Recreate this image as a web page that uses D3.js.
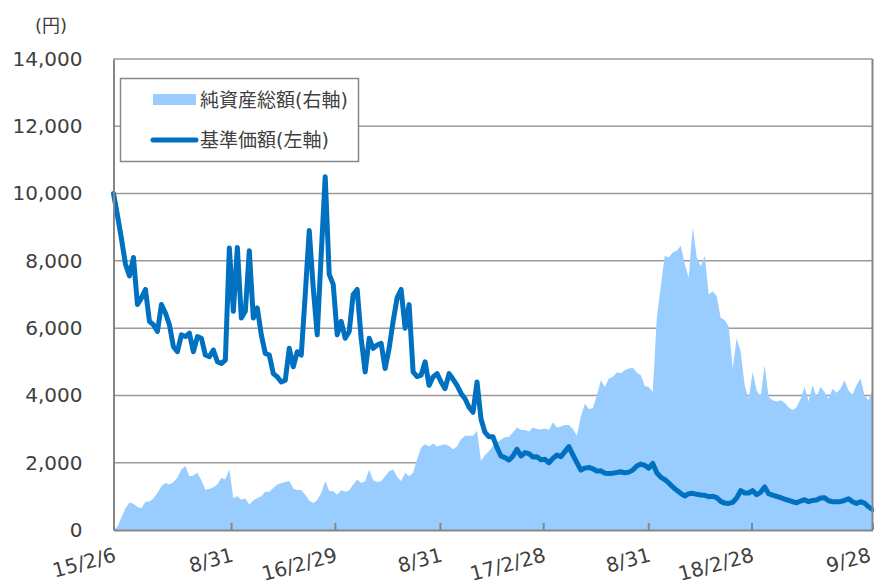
<!DOCTYPE html>
<html>
<head>
<meta charset="utf-8">
<script src="https://cdn.jsdelivr.net/npm/d3@7"></script>
<style>
  html, body { margin: 0; padding: 0; background: #fff; }
  svg { display: block; }
</style>
</head>
<body>
<svg id="chart" width="874" height="585"></svg>
<script>
// ---- data (weekly observations, Fridays, 2015-02-06 .. 2018-09-28) ----
const startDate = "2015-02-06";
const endDate = "2018-09-28";
const stepDays = 7;

// 基準価額 (左軸, 円)
const nav = [
  10000, 9350, 8650, 7900, 7550, 8100, 6700, 6900, 7150, 6200,
  6100, 5900, 6700, 6450, 6100, 5450, 5300, 5800, 5750, 5850,
  5300, 5750, 5700, 5200, 5150, 5350, 5000, 4950, 5050, 8380,
  6500, 8400, 6300, 6500, 8300, 6300, 6600, 5800, 5250, 5200,
  4650, 4550, 4400, 4450, 5400, 4850, 5300, 5200, 7000, 8900,
  7200, 5800, 8200, 10500, 7600, 7300, 5800, 6200, 5700, 5900,
  7000, 7150, 5700, 4700, 5700, 5400, 5500, 5550, 4800, 5400,
  6200, 6900, 7150, 6000, 6700, 4700, 4560, 4600, 5000, 4300,
  4550, 4650, 4400, 4200, 4650, 4480, 4300, 4060, 3900, 3650,
  3500, 4400, 3300, 2900, 2770, 2770, 2450, 2200, 2150, 2080,
  2200, 2400, 2200, 2300, 2270, 2170, 2180, 2090, 2100, 2000,
  2130, 2230, 2180, 2330, 2480, 2230, 2000, 1780, 1840, 1860,
  1820, 1750, 1760, 1690, 1680, 1690, 1710, 1730, 1700, 1720,
  1780, 1900, 1960, 1920, 1840, 1980, 1700, 1570, 1500, 1400,
  1280, 1180, 1090, 1010, 1080, 1090, 1060, 1040, 1030, 990,
  1000, 960, 850, 800, 790, 820, 950, 1170, 1100, 1100,
  1170, 1050, 1120, 1280, 1080, 1040, 1000, 960, 920, 880,
  840, 810, 860, 900, 840, 880, 890, 950, 960, 870,
  840, 840, 840, 880, 930, 840, 790, 840, 800, 690,
  610
];

// 純資産総額 (右軸, 目盛非表示)
const netAssets = [
  0, 100, 380, 650, 820, 780, 680, 650, 840, 850,
  940, 1100, 1300, 1400, 1360, 1420, 1560, 1800, 1900, 1600,
  1620, 1700, 1480, 1200, 1220, 1270, 1350, 1550, 1500, 1800,
  950, 1000, 900, 940, 760, 880, 950, 1000, 1140, 1140,
  1250, 1350, 1390, 1430, 1460, 1230, 1190, 1190, 1050, 880,
  800, 890, 1100, 1450, 1160, 1150, 1050, 1180, 1140, 1180,
  1350, 1500, 1400, 1450, 1800, 1480, 1430, 1450, 1600, 1750,
  1800, 1580, 1450, 1700, 1600, 1700, 2100, 2450, 2550, 2480,
  2570, 2480, 2520, 2550, 2500, 2400, 2480, 2700, 2800, 2800,
  2800, 2950, 2050, 2230, 2350, 2500, 2600, 2680, 2760, 2770,
  2900, 3050, 2970, 2970, 2930, 3050, 3000, 2990, 3020, 2970,
  3200, 3050, 3080, 3120, 3120, 3000, 2800, 3370, 3750, 3600,
  3620, 4000, 4450, 4250, 4500, 4550, 4680, 4660, 4750, 4800,
  4820, 4680, 4600, 4280, 4250, 4100, 6300, 7230, 8150, 8100,
  8250, 8300, 8450, 7900, 7500, 9000, 8100, 7830, 8150, 7000,
  7100, 6950, 6300, 6240, 6050, 4800, 5700, 5300, 4300, 3900,
  4700, 4150, 3950, 4900, 3950, 3860, 3820, 3860, 3780, 3650,
  3570, 3650, 3900, 4250, 3820, 4300, 3950, 4250, 4100, 3900,
  4200, 4080, 4200, 4450, 4150, 4020, 4300, 4500, 4000, 3860,
  4150
];

const xTickDates = ["2015-02-06","2015-08-31","2016-02-29","2016-08-31","2017-02-28","2017-08-31","2018-02-28","2018-09-28"];
const xTickLabels = ["15/2/6","8/31","16/2/29","8/31","17/2/28","8/31","18/2/28","9/28"];
const yTicks = [0, 2000, 4000, 6000, 8000, 10000, 12000, 14000];
const legendLabels = ["純資産総額(右軸)", "基準価額(左軸)"];
const unitLabel = "(円)";

// ---- drawing ----
const parse = d3.timeParse("%Y-%m-%d");
const t0 = parse(startDate);
const dates = nav.map((_, i) => d3.timeDay.offset(t0, i * stepDays));

const svg = d3.select("#chart");
const L = 113.5, R = 872.5, T = 59, B = 530;

const x = d3.scaleTime().domain([parse(startDate), parse(endDate)]).range([L, R]);
const y = d3.scaleLinear().domain([0, 14000]).range([B, T]);
const yRight = d3.scaleLinear().domain([0, 14000]).range([B, T]);

const textColor = "#404040";
const gridColor = "#9a9a9a";
const axisColor = "#868686";

// gridlines
svg.append("g").selectAll("line").data(yTicks.filter(v => v > 0)).join("line")
  .attr("x1", L).attr("x2", R)
  .attr("y1", d => y(d)).attr("y2", d => y(d))
  .attr("stroke", gridColor).attr("stroke-width", 1.5);

// area
const area = d3.area()
  .x((d, i) => x(dates[i]))
  .y0(B)
  .y1(d => yRight(d));
svg.append("path").datum(netAssets)
  .attr("d", area)
  .attr("fill", "#99CCFF");

// line
const line = d3.line()
  .x((d, i) => x(dates[i]))
  .y(d => y(d));
svg.append("path").datum(nav)
  .attr("d", line)
  .attr("fill", "none")
  .attr("stroke", "#0070C0")
  .attr("stroke-width", 5)
  .attr("stroke-linejoin", "round")
  .attr("stroke-linecap", "round");

// right border
svg.append("line").attr("x1", R).attr("x2", R).attr("y1", T).attr("y2", B)
  .attr("stroke", axisColor).attr("stroke-width", 2);

// y axis
const yAxis = d3.axisLeft(y).tickValues(yTicks).tickFormat(d3.format(",")).tickSize(0).tickPadding(31);
const gy = svg.append("g").attr("transform", `translate(${L},0)`).call(yAxis);
gy.select(".domain").attr("stroke", axisColor).attr("stroke-width", 2);
gy.selectAll("text")
  .attr("fill", textColor)
  .style("font-family", "DejaVu Sans, Verdana, sans-serif")
  .style("font-size", "20px");

// x axis
const xAxis = d3.axisBottom(x)
  .tickValues(xTickDates.map(parse))
  .tickFormat((d, i) => xTickLabels[i])
  .tickSizeInner(-7).tickSizeOuter(0);
const gx = svg.append("g").attr("transform", `translate(0,${B})`).call(xAxis);
gx.select(".domain").attr("stroke", axisColor).attr("stroke-width", 2);
gx.selectAll(".tick line").attr("stroke", axisColor).attr("stroke-width", 2);
gx.selectAll("text")
  .attr("fill", textColor)
  .attr("y", 0).attr("dy", 0)
  .attr("text-anchor", "end")
  .attr("transform", (d, i) => i === xTickLabels.length - 1 ? "translate(-1,31) rotate(-15)" : "translate(3,31) rotate(-15)")
  .style("font-family", "DejaVu Sans, Verdana, sans-serif")
  .style("font-size", "20px");

// unit label
svg.append("text").attr("x", 35).attr("y", 32)
  .attr("fill", textColor)
  .style("font-family", "DejaVu Sans, Noto Sans CJK JP, sans-serif")
  .style("font-size", "18px")
  .text(unitLabel);

// legend
const lg = svg.append("g");
lg.append("rect").attr("x", 120.5).attr("y", 78.5).attr("width", 238).attr("height", 83)
  .attr("fill", "#fff").attr("stroke", axisColor).attr("stroke-width", 1.5);
lg.append("rect").attr("x", 153).attr("y", 94).attr("width", 43).attr("height", 11)
  .attr("fill", "#99CCFF");
lg.append("line").attr("x1", 153).attr("x2", 196).attr("y1", 140).attr("y2", 140)
  .attr("stroke", "#0070C0").attr("stroke-width", 5).attr("stroke-linecap", "round");
lg.selectAll("text.lab").data(legendLabels).join("text")
  .attr("class", "lab")
  .attr("x", 200)
  .attr("y", (d, i) => i === 0 ? 100 : 140)
  .attr("dy", "0.35em")
  .attr("fill", textColor)
  .style("font-family", "DejaVu Sans, Noto Sans CJK JP, sans-serif")
  .style("font-size", "19px")
  .text(d => d);
</script>
</body>
</html>
